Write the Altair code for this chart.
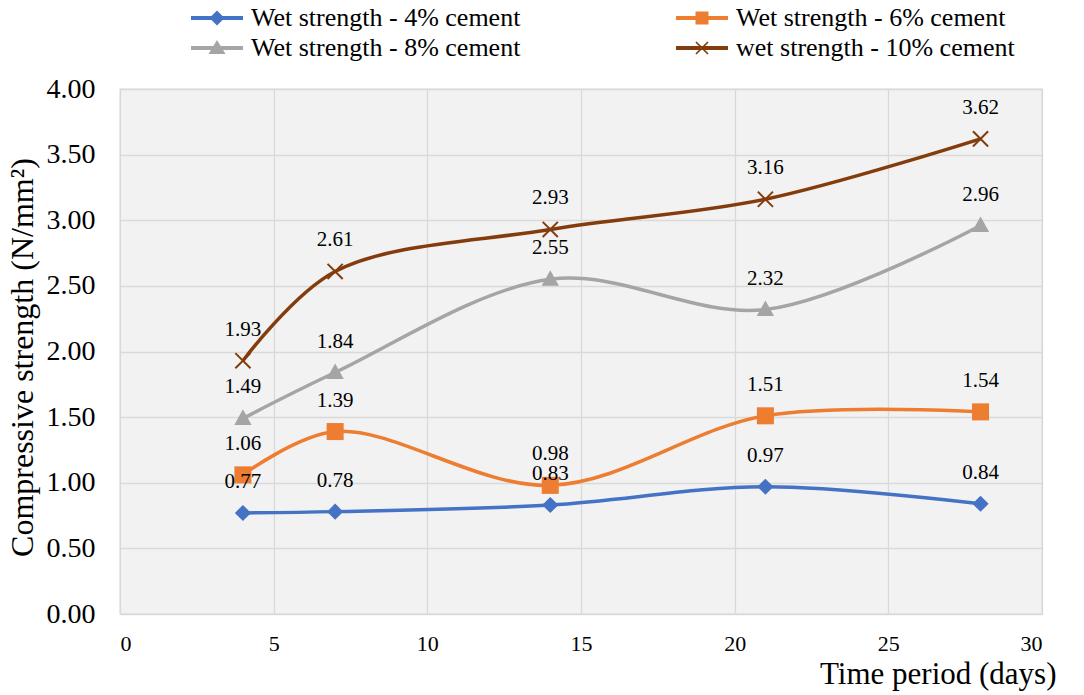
import altair as alt
import pandas as pd

# Curing age (days) and wet compressive strength (N/mm²) per cement content
days = [4, 7, 14, 21, 28]
series_names = [
    "Wet strength - 4% cement",
    "Wet strength - 6% cement",
    "Wet strength - 8% cement",
    "wet strength - 10% cement",
]
cement_4 = [0.77, 0.78, 0.83, 0.97, 0.84]
cement_6 = [1.06, 1.39, 0.98, 1.51, 1.54]
cement_8 = [1.49, 1.84, 2.55, 2.32, 2.96]
cement_10 = [1.93, 2.61, 2.93, 3.16, 3.62]

x_ticks = [0, 5, 10, 15, 20, 25, 30]
y_ticks = [0.0, 0.5, 1.0, 1.5, 2.0, 2.5, 3.0, 3.5, 4.0]

colors = ["#4472C4", "#ED7D31", "#A5A5A5", "#843C0C"]
FONT = "Times New Roman"

# Marker glyphs in the plot (unit square -1..1)
marker_paths = [
    "M0,-1L1,0L0,1L-1,0Z",           # diamond
    "M-1,-1L1,-1L1,1L-1,1Z",         # square
    "M0,-1.05L1,0.75L-1,0.75Z",      # triangle
    "M-1,-1L1,1M-1,1L1,-1",          # cross (x)
]
marker_filled = [True, True, True, False]
marker_sizes = [260, 290, 300, 230]

# Legend glyphs: a short line segment with the series marker on top
seg = "M-2.6,-0.2L2.6,-0.2L2.6,0.2L-2.6,0.2Z"
legend_paths = [
    seg + "M0,-0.75L0.75,0L0,0.75L-0.75,0Z",
    seg + "M-0.65,-0.65L0.65,-0.65L0.65,0.65L-0.65,0.65Z",
    seg + "M0,-0.8L0.85,0.6L-0.85,0.6Z",
    seg + "M-0.54,-0.66L0.66,0.54L0.54,0.66L-0.66,-0.54Z"
          "M-0.66,0.54L0.54,-0.66L0.66,-0.54L-0.54,0.66Z",
]

rows = []
for name, vals in zip(series_names, [cement_4, cement_6, cement_8, cement_10]):
    for d, v in zip(days, vals):
        rows.append({"Series": name, "Days": d, "Strength": v})
df = pd.DataFrame(rows)

x_enc = alt.X(
    "Days:Q",
    scale=alt.Scale(domain=[0, 30], nice=False),
    axis=alt.Axis(
        values=x_ticks,
        format="d",
        title="Time period (days)",
        labelFontSize=22,
        labelPadding=19,
        titleFontSize=31,
        titleAlign="right",
        titleAnchor="end",
        titleBaseline="alphabetic",
        titleX=936,
        titleY=69,
    ),
)
y_enc = alt.Y(
    "Strength:Q",
    scale=alt.Scale(domain=[0, 4], nice=False),
    axis=alt.Axis(
        values=y_ticks,
        format=".2f",
        title="Compressive strength (N/mm²)",
        labelFontSize=28,
        labelPadding=25,
        titleFontSize=32,
        titleAngle=270,
        titleAlign="center",
        titleBaseline="middle",
        titleX=-98,
        titleY=268,
    ),
)

base = alt.Chart(df)

layers = []
# Smoothed lines, one per cement content
for name, c in zip(series_names, colors):
    layers.append(
        base.transform_filter(alt.datum.Series == name)
        .mark_line(color=c, strokeWidth=3.5, interpolate="catmull-rom")
        .encode(x=x_enc, y=y_enc)
    )
# Markers at the measured ages
for name, c, p, f, s in zip(series_names, colors, marker_paths, marker_filled, marker_sizes):
    props = dict(shape=p, size=s, opacity=1)
    if f:
        props.update(filled=True, fill=c, strokeWidth=0)
    else:
        props.update(filled=False, stroke=c, strokeWidth=2)
    layers.append(
        base.transform_filter(alt.datum.Series == name)
        .mark_point(**props)
        .encode(x=x_enc, y=y_enc)
    )

# Value labels above each point
labels = base.mark_text(
    font=FONT, fontSize=21, color="black", dy=-31, baseline="middle"
).encode(x=x_enc, y=y_enc, text=alt.Text("Strength:Q", format=".2f"))
layers.append(labels)

# Legend carrier: no marks drawn, only the colour/shape legend
legend_layer = (
    base.transform_filter("false")
    .mark_point(filled=True, opacity=1)
    .encode(
        x=x_enc,
        y=y_enc,
        color=alt.Color(
            "Series:N",
            scale=alt.Scale(domain=series_names, range=colors),
            legend=alt.Legend(
                title=None,
                orient="none",
                direction="horizontal",
                legendX=84,
                legendY=-84,
                columns=2,
                columnPadding=155,
                rowPadding=4,
                padding=0,
                labelFontSize=26,
                labelLimit=0,
                labelOffset=21,
                symbolSize=400,
                symbolStrokeWidth=0,
                symbolOpacity=1,
            ),
        ),
        shape=alt.Shape(
            "Series:N",
            scale=alt.Scale(domain=series_names, range=legend_paths),
        ),
    )
)

chart = (
    alt.layer(legend_layer, *layers)
    .properties(
        width=922,
        height=525,
        autosize=alt.AutoSizeParams(type="none"),
        padding={"left": 120, "top": 89, "right": 42, "bottom": 81},
        background="white",
    )
    .configure_view(fill="#f2f2f2", stroke="#d9d9d9", strokeWidth=1.3)
    .configure_axis(
        labelFont=FONT,
        labelColor="black",
        titleFont=FONT,
        titleColor="black",
        titleFontWeight="normal",
        ticks=False,
        tickSize=0,
        domain=False,
        grid=True,
        gridColor="#d9d9d9",
        gridWidth=1.3,
    )
    .configure_legend(labelFont=FONT, labelColor="black")
    .configure_text(font=FONT)
)

chart.save("out.html", embed_options={"renderer": "svg", "actions": False})
